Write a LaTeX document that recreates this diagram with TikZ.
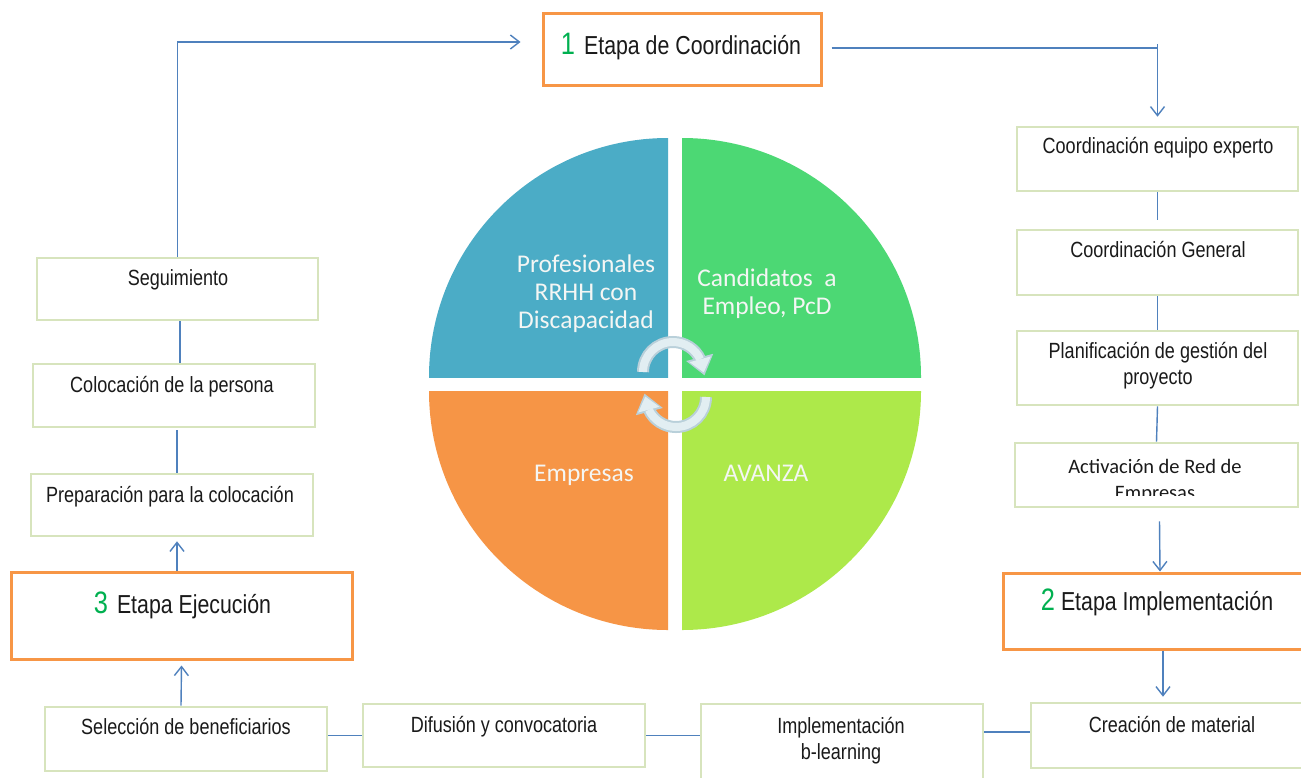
\documentclass[tikz,border=0pt]{standalone}
\usepackage{fontspec}
\usetikzlibrary{arrows.meta,calc}
\setmainfont{Liberation Sans}
\newfontfamily\boxfont[FakeStretch=0.82]{Liberation Sans}
\newfontfamily\calfont{Carlito}
\definecolor{linkblue}{HTML}{4F81BD}
\definecolor{boxgreen}{HTML}{D7E4BD}
\definecolor{stageorange}{HTML}{F79646}
\definecolor{numgreen}{HTML}{00B050}
\definecolor{qblue}{HTML}{4BACC6}
\definecolor{qgreen}{HTML}{4CD874}
\definecolor{qorange}{HTML}{F69546}
\definecolor{qlime}{HTML}{ADE94A}
\definecolor{cycfill}{HTML}{E2EEF2}
\definecolor{cycedge}{HTML}{B9D0DA}
\definecolor{txtdark}{HTML}{1A1A1A}
\definecolor{qtext}{HTML}{F4F6F4}

% curved cycle arrow: centre, start angle, end angle (angles grow clockwise on the page)
\newcommand\cyclearrow[3]{%
  \draw[cycedge, line width=12pt] ($(#1)+(#2:30)$) arc[start angle=#2, end angle=#3, radius=30];
  \fill[cycedge] ($(#1)+(#3:30)+({#3+10}:14)+({#3+100}:-2)$) -- ($(#1)+(#3:30)+({#3+100}:16.5)$)
     -- ($(#1)+(#3:30)+({#3+190}:14)+({#3+100}:-2)$) -- cycle;
  \draw[cycfill, line width=8pt] ($(#1)+(#2:30)$) arc[start angle=#2, end angle=#3, radius=30];
  \fill[cycfill] ($(#1)+(#3:30)+({#3+10}:11)$) -- ($(#1)+(#3:30)+({#3+100}:13.5)$)
     -- ($(#1)+(#3:30)+({#3+190}:11)$) -- cycle;
}

\begin{document}
\begin{tikzpicture}[x=1pt,y=-1pt,
  gbox/.style={draw=boxgreen, line width=2.6pt, rectangle, inner sep=0pt},
  obox/.style={draw=stageorange, line width=3pt, rectangle, inner sep=0pt},
  btxt/.style={font=\boxfont\fontsize{22}{25.5}\selectfont, text=txtdark, anchor=base, inner sep=0pt, align=center},
  stxt/.style={font=\boxfont\fontsize{26}{30}\selectfont, text=txtdark, anchor=base, inner sep=0pt},
  rtxt/.style={font=\calfont\fontsize{20.5}{26}\selectfont, text=txtdark, anchor=base, inner sep=0pt, align=center},
  qtxt/.style={font=\calfont\fontsize{25.5}{28}\selectfont, text=qtext, anchor=base, inner sep=0pt, align=center},
  link/.style={draw=linkblue, line width=1.4pt},
  linkarrow/.style={link, -{Straight Barb[length=9pt,width=14pt]}},
]
\useasboundingbox (0,0) rectangle (1301,777);
\fill[white] (0,0) rectangle (1301,777);

% ---------- central four-part circle ----------
\begin{scope}\clip (668,377) rectangle (420,128);
  \fill[qblue] (668,377) circle[radius=239];\end{scope}
\begin{scope}\clip (682,377) rectangle (930,128);
  \fill[qgreen] (682,377) circle[radius=239];\end{scope}
\begin{scope}\clip (668,391) rectangle (420,640);
  \fill[qorange] (668,391) circle[radius=239];\end{scope}
\begin{scope}\clip (682,391) rectangle (930,640);
  \fill[qlime] (682,391) circle[radius=239];\end{scope}

% multi-line labels are placed by the baseline of their last line
\node[qtxt] (qprof) at (586,328) {Profesionales\\RRHH con\\Discapacidad};
\node[qtxt] (qcand) at (767,314) {Candidatos~~a\\Empleo, PcD};
\node[qtxt] (qemp) at (584,481) {Empresas};
\node[qtxt] (qava) at (766,481) {AVANZA};

\coordinate (cycA) at (673,372);
\coordinate (cycB) at (676,397);
\cyclearrow{cycA}{180}{335}
\cyclearrow{cycB}{0}{155}

% ---------- stage boxes ----------
\node[obox, minimum width=278pt, minimum height=72pt] (coord) at (682,49) {};
\node[obox, minimum width=341pt, minimum height=87pt] (eje) at (181.5,615.5) {};
\node[obox, minimum width=312pt, minimum height=76pt] (implst) at (1159,611) {};

\node[stxt] (coordT) at (681,54) {{\color{numgreen}\fontsize{31}{31}\selectfont 1}\hspace{9pt}Etapa de Coordinación};
\node[stxt] (ejeT) at (182.5,613) {{\color{numgreen}\fontsize{31}{31}\selectfont 3}\hspace{9pt}Etapa Ejecución};
\node[stxt] (implstT) at (1157,610) {{\color{numgreen}\fontsize{31}{31}\selectfont 2}\hspace{6pt}Etapa Implementación};

% ---------- activity boxes ----------
\node[gbox, minimum width=281pt, minimum height=62pt] (seg) at (177.5,289) {};
\node[gbox, minimum width=282pt, minimum height=63pt] (col) at (174,395.5) {};
\node[gbox, minimum width=282pt, minimum height=62pt] (prep) at (172,505) {};
\node[gbox, minimum width=282pt, minimum height=64pt] (sel) at (186,739) {};
\node[gbox, minimum width=282pt, minimum height=63pt] (dif) at (504,735.5) {};
\node[gbox, minimum width=282pt, minimum height=86pt] (impl) at (842,747) {};
\node[gbox, minimum width=284pt, minimum height=65pt] (crea) at (1173,735.5) {};
\node[gbox, minimum width=281pt, minimum height=64pt] (exp) at (1157.5,159) {};
\node[gbox, minimum width=281pt, minimum height=65pt] (gen) at (1157.5,262.5) {};
\node[gbox, minimum width=281pt, minimum height=74pt] (plan) at (1157.5,368) {};
\node[gbox, minimum width=283pt, minimum height=64pt] (red) at (1156.5,475) {};

\node[btxt] (segT) at (178,285) {Seguimiento};
\node[btxt] (colT) at (172,392) {Colocación de la persona};
\node[btxt] (prepT) at (170,502) {Preparación para la colocación};
\node[btxt] (selT) at (186,734) {Selección de beneficiarios};
\node[btxt] (difT) at (504,732) {Difusión y convocatoria};
\node[btxt] (implT) at (841,759) {Implementación\\b-learning};
\node[btxt] (creaT) at (1172,732) {Creación de material};
\node[btxt] (expT) at (1158,153) {Coordinación equipo experto};
\node[btxt] (genT) at (1158,257) {Coordinación General};
\node[btxt] (planT) at (1158,384) {Planificación de gestión del\\proyecto};
\begin{scope}
  \clip (1017,446) rectangle (1296,495);
  \node[rtxt] (redT) at (1155,499) {Activación de Red de\\Empresas};
\end{scope}

% ---------- connectors ----------
\coordinate (topline) at (0,42);
\coordinate (rline) at (0,48);
\draw[linkarrow] (seg.north) -- (seg.north |- topline) -- ($(coord.west |- topline)+(-21,0)$);
\draw[linkarrow] ($(coord.east |- rline)+(9,0)$) -- (exp.north |- rline) -- ($(exp.north)+(0,-9)$);
\draw[link] (exp.north |- rline) -- ++(0,-4);

\draw[link] (exp.south) -- ($(gen.north)+(0,-9)$);
\draw[link] (gen.south) -- (plan.north);
\draw[link] (plan.south) -- (red.north);
\draw[linkarrow] ($(red.south)+(3,13)$) -- ($(implst.north)+(1,0)$);
\draw[linkarrow] ($(implst.south)+(4,0)$) -- ($(crea.north)+(-10,-5)$);

\draw[link] (crea.west |- creaT.base) -- (impl.east |- creaT.base);
\draw[link] (dif.east) -- (dif.east -| impl.west);
\draw[link] (sel.east |- dif.west) -- (dif.west);

\draw[linkarrow] ($(sel.north)+(-5,0)$) -- ($(eje.south)+(0,5)$);
\draw[linkarrow] ($(eje.north)+(-4.5,0)$) -- ($(prep.south)+(5,4)$);
\draw[link] ($(prep.north)+(5,0)$) -- ($(col.south)+(3,2)$);
\draw[link] ($(col.north)+(6,0)$) -- ($(seg.south)+(2.5,0)$);
\end{tikzpicture}
\end{document}
